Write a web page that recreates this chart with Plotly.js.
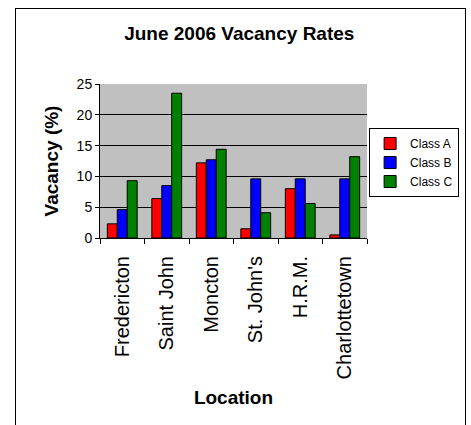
<!DOCTYPE html>
<html>
<head>
<meta charset="utf-8">
<script src="https://cdn.plot.ly/plotly-3.0.1.min.js"></script>
<style>
  html, body { margin: 0; padding: 0; background: #fff; }
  #wrap { position: relative; width: 471px; height: 425px; overflow: hidden; }
  #chart { width: 471px; height: 425px; }
  #frame { position: absolute; left: 15px; top: 8px; width: 449px; height: 440px;
           border: 1px solid #000; pointer-events: none; }
</style>
</head>
<body>
<div id="wrap">
  <div id="chart"></div>
  <div id="frame"></div>
</div>
<script>
const locations = ["Fredericton", "Saint John", "Moncton", "St. John's", "H.R.M.", "Charlottetown"];
const classA = [2.3, 6.4, 12.2, 1.5, 8.0, 0.5];
const classB = [4.6, 8.5, 12.7, 9.6, 9.6, 9.6];
const classC = [9.3, 23.5, 14.4, 4.1, 5.6, 13.2];
const yTicks = [0, 5, 10, 15, 20, 25];

const font = "Liberation Sans, Arial, sans-serif";
const mk = (name, y, color) => ({
  type: "bar", name: name, x: locations, y: y,
  marker: { color: color, line: { color: "#000", width: 1 } }
});

const data = [
  mk("Class A", classA, "#FF0000"),
  mk("Class B", classB, "#0000FF"),
  mk("Class C", classC, "#008000")
];

const layout = {
  width: 471, height: 425,
  margin: { l: 100, r: 102, t: 84, b: 187 },
  paper_bgcolor: "#fff",
  plot_bgcolor: "#C0C0C0",
  font: { family: font, color: "#000" },
  barmode: "group",
  bargap: 0.33,
  bargroupgap: 0,
  showlegend: true,
  title: {
    text: "<b>June 2006 Vacancy Rates</b>",
    font: { size: 19, family: font, color: "#000" },
    xref: "container", x: 0.508, xanchor: "center",
    yref: "container", y: 0.922, yanchor: "middle"
  },
  xaxis: {
    type: "category",
    tickangle: -90,
    tickfont: { size: 20, family: font },
    ticks: "outside", tickson: "boundaries", ticklen: 5, tickcolor: "#000",
    ticklabelstandoff: 9,
    showline: true, linecolor: "#000", linewidth: 1,
    showgrid: false,
    title: { text: "<b>Location</b>", font: { size: 19, family: font }, standoff: 12 }
  },
  yaxis: {
    range: [0, 25],
    tickvals: yTicks,
    ticktext: yTicks.map(String),
    tickfont: { size: 14, family: font },
    ticks: "outside", ticklen: 4, tickcolor: "#000",
    showline: true, linecolor: "#000", linewidth: 1,
    showgrid: true, gridcolor: "#000", gridwidth: 1,
    zeroline: false,
    title: { text: "<b>Vacancy (%)</b>", font: { size: 19, family: font }, standoff: 12 }
  },
  legend: {
    x: 1.345, xanchor: "right", y: 0.714, yanchor: "top",
    bgcolor: "#fff", bordercolor: "#000", borderwidth: 1,
    font: { size: 12, family: font },
    itemwidth: 30,
    tracegroupgap: 0
  }
};

Plotly.newPlot("chart", data, layout, { displayModeBar: false, staticPlot: true });
</script>
</body>
</html>
